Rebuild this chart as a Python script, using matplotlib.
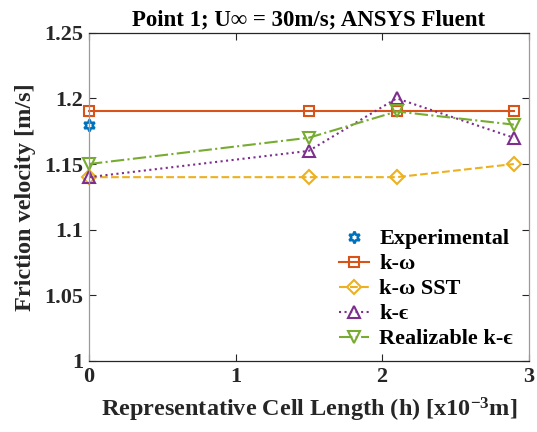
import matplotlib
matplotlib.use("Agg")
import matplotlib.pyplot as plt

plt.rcParams['font.family'] = ['Liberation Serif', 'DejaVu Serif']
plt.rcParams['font.weight'] = 'bold'
plt.rcParams['mathtext.fontset'] = 'custom'
plt.rcParams['mathtext.rm'] = 'Liberation Serif:bold'
plt.rcParams['mathtext.it'] = 'Liberation Serif:bold'
plt.rcParams['mathtext.bf'] = 'Liberation Serif:bold'

# Data
exp_x = [0]
exp_y = [1.18]
h = [0, 1.5, 2.1, 2.9]
kw = [1.19, 1.19, 1.19, 1.19]
kw_sst = [1.14, 1.14, 1.14, 1.15]
ke = [1.14, 1.16, 1.20, 1.17]
rke = [1.15, 1.17, 1.19, 1.18]
xticks = [0, 1, 2, 3]
yticks = [1, 1.05, 1.1, 1.15, 1.2, 1.25]
ytick_labels = ['1', '1.05', '1.1', '1.15', '1.2', '1.25']

fig = plt.figure(figsize=(5.37, 4.32), dpi=100)
ax = fig.add_axes([89/537, 71/432, (528.5-89)/537, (361-32.7)/432])

blue = '#0072BD'; orange = '#D95319'; yellow = '#EDB120'; purple = '#7E2F8E'; green = '#77AC30'
lw = 1.5
ax.plot(exp_x, exp_y, linestyle='none', marker=(6, 1, 0), color=blue, ms=8.5,
        mfc='none', mew=1.8, label='Experimental', clip_on=False)
ax.plot(h, kw, '-', color=orange, marker='s', ms=7, mfc='none', mew=1.5, lw=lw, label='k-ω', clip_on=False)
ax.plot(h, kw_sst, '--', color=yellow, marker='D', ms=7, mfc='none', mew=1.5, lw=lw, label='k-ω SST', clip_on=False)
ax.plot(h, ke, ':', color=purple, marker='^', ms=9, mfc='none', mew=1.5, lw=lw, label='k-ϵ', clip_on=False)
ax.plot(h, rke, '-.', color=green, marker='v', ms=9, mfc='none', mew=1.5, lw=lw, label='Realizable k-ϵ', clip_on=False)

ax.set_xlim(0, 3)
ax.set_ylim(1, 1.25)
ax.set_xticks(xticks)
ax.set_xticklabels([str(t) for t in xticks])
ax.set_yticks(yticks)
ax.set_yticklabels(ytick_labels)
ax.tick_params(direction='in', top=True, right=True, labelsize=16, length=5, width=0.8, colors='#262626', pad=4)
for s in ['top', 'bottom']:
    ax.spines[s].set_color('#262626')
for s in ['left', 'right']:
    ax.spines[s].set_color('#9a9a9a')
for s in ax.spines.values():
    s.set_linewidth(0.9)

ax.set_xlabel('Representative Cell Length (h) [x10$^{-3}$m]', fontsize=17.5, fontweight='bold', color='#262626', labelpad=7)
ax.set_ylabel('Friction velocity [m/s]', fontsize=17.5, fontweight='bold', color='#262626', labelpad=6)
ax.set_title('Point 1; U∞ = 30m/s; ANSYS Fluent', fontsize=16.5, fontweight='bold', pad=5)

leg = ax.legend(loc='lower right', bbox_to_anchor=(1.0, -0.012), frameon=False, fontsize=16,
                handlelength=1.35, handletextpad=0.45, labelspacing=0.2, borderaxespad=0.3)
for t in leg.get_texts():
    t.set_color('#000000')

fig.savefig('out.png', dpi=100)
